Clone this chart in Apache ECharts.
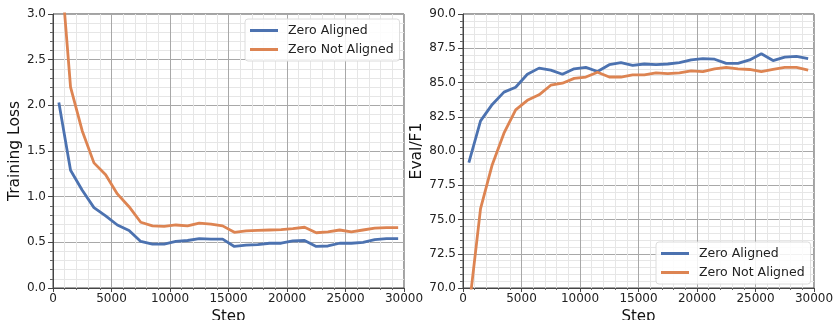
<!DOCTYPE html>
<html>
<head>
<meta charset="utf-8">
<script src="https://cdn.jsdelivr.net/npm/echarts@6/dist/echarts.min.js"></script>
<style>
html, body { margin: 0; padding: 0; background: #fff; }
#chart { width: 835px; height: 320px; }
</style>
</head>
<body>
<div id="chart"></div>
<script>
// 横坐标 step
const steps = [500, 1500, 2500, 3500, 4500, 5500, 6500, 7500, 8500, 9500,
  10500, 11500, 12500, 13500, 14500, 15500, 16500, 17500, 18500, 19500,
  20500, 21500, 22500, 23500, 24500, 25500, 26500, 27500, 28500, 29500]
const seriesNames = ['Zero Aligned', 'Zero Not Aligned']
const lossAligned = [2.03, 1.29, 1.07, 0.88, 0.79, 0.69, 0.63, 0.51, 0.48, 0.48,
  0.51, 0.52, 0.54, 0.535, 0.535, 0.455, 0.47, 0.475, 0.49, 0.49,
  0.515, 0.52, 0.455, 0.46, 0.49, 0.49, 0.50, 0.53, 0.54, 0.54]
const lossNotAligned = [3.8, 2.2, 1.72, 1.37, 1.24, 1.03, 0.89, 0.72, 0.68, 0.675,
  0.69, 0.68, 0.71, 0.70, 0.68, 0.61, 0.625, 0.63, 0.635, 0.64,
  0.65, 0.665, 0.605, 0.615, 0.635, 0.615, 0.635, 0.655, 0.66, 0.66]
const f1Aligned = [79.15, 82.2, 83.4, 84.3, 84.65, 85.6, 86.05, 85.9, 85.6, 86.0,
  86.1, 85.8, 86.3, 86.45, 86.25, 86.35, 86.3, 86.35, 86.45, 86.65,
  86.75, 86.7, 86.4, 86.4, 86.65, 87.1, 86.6, 86.85, 86.9, 86.75]
const f1NotAligned = [68.4, 75.8, 79.0, 81.3, 83.0, 83.7, 84.1, 84.8, 84.95, 85.3,
  85.4, 85.75, 85.4, 85.4, 85.55, 85.55, 85.7, 85.65, 85.7, 85.85,
  85.8, 86.0, 86.1, 86.0, 85.95, 85.8, 85.95, 86.1, 86.1, 85.9]
const xTicks = [0, 5000, 10000, 15000, 20000, 25000, 30000]

const colors = ['#4c72b0', '#dd8452']
const font = 'DejaVu Sans'
const zip = (ys) => steps.map((s, i) => [s, ys[i]])

const chart = echarts.init(document.getElementById('chart'))

function xAxis(gridIndex) {
  return {
    type: 'value',
    gridIndex: gridIndex,
    min: xTicks[0],
    max: xTicks[xTicks.length - 1],
    interval: xTicks[1] - xTicks[0],
    name: 'Step',
    nameLocation: 'middle',
    nameGap: 19,
    nameTextStyle: { fontFamily: font, fontSize: 15, color: '#111' },
    axisLine: { show: true, lineStyle: { color: '#444', width: 1 } },
    axisTick: { show: true, length: 4, lineStyle: { color: '#444' } },
    minorTick: { show: true, splitNumber: 5, length: 2, lineStyle: { color: '#666' } },
    axisLabel: { fontFamily: font, fontSize: 12, color: '#222', margin: 5, formatter: (v) => String(v) },
    splitLine: { show: true, lineStyle: { color: '#a8a8a8', width: 1 } },
    minorSplitLine: { show: true, lineStyle: { color: '#e6e6e6', width: 1 } }
  }
}

function yAxis(gridIndex, name, min, max, interval, nameGap) {
  return {
    type: 'value',
    gridIndex: gridIndex,
    min: min,
    max: max,
    interval: interval,
    name: name,
    nameLocation: 'middle',
    nameRotate: 90,
    nameGap: nameGap,
    nameTextStyle: { fontFamily: font, fontSize: 15.5, color: '#111' },
    axisLine: { show: true, lineStyle: { color: '#444', width: 1 } },
    axisTick: { show: true, length: 5, lineStyle: { color: '#444' } },
    minorTick: { show: true, splitNumber: 5, length: 3, lineStyle: { color: '#666' } },
    axisLabel: {
      fontFamily: font, fontSize: 12, color: '#222', margin: 7,
      formatter: (v) => v.toFixed(1)
    },
    splitLine: { show: true, lineStyle: { color: '#a8a8a8', width: 1 } },
    minorSplitLine: { show: true, lineStyle: { color: '#e6e6e6', width: 1 } }
  }
}

function legend(left, top) {
  return {
    orient: 'vertical',
    left: left,
    top: top,
    itemWidth: 28,
    itemHeight: 14,
    itemGap: 6,
    padding: [5, 6, 5, 5],
    icon: 'path://M0,0 L28,0 L28,3 L0,3 Z',
    backgroundColor: 'rgba(255,255,255,0.85)',
    borderColor: '#dcdcdc',
    borderWidth: 1,
    borderRadius: 3,
    textStyle: { fontFamily: font, fontSize: 12.5, color: '#222', padding: [0, 0, 0, 5] },
    data: seriesNames
  }
}

function line(name, xi, data, color) {
  return {
    name: name,
    type: 'line',
    xAxisIndex: xi,
    yAxisIndex: xi,
    data: data,
    showSymbol: false,
    symbol: 'none',
    clip: true,
    lineStyle: { color: color, width: 2.8 },
    itemStyle: { color: color },
    animation: false
  }
}

const gridBase = { top: 14, width: 351, height: 274, show: true, borderColor: '#444', borderWidth: 1, containLabel: false, outerBoundsMode: 'none' }

const option = {
  backgroundColor: '#fff',
  animation: false,
  grid: [
    Object.assign({ left: 53 }, gridBase),
    Object.assign({ left: 463 }, gridBase)
  ],
  legend: [legend(245, 19), legend(656, 242)],
  xAxis: [xAxis(0), xAxis(1)],
  yAxis: [
    yAxis(0, 'Training Loss', 0, 3, 0.5, 25),
    yAxis(1, 'Eval/F1', 70, 90, 2.5, 32)
  ],
  series: [
    line(seriesNames[0], 0, zip(lossAligned), colors[0]),
    line(seriesNames[1], 0, zip(lossNotAligned), colors[1]),
    line(seriesNames[0], 1, zip(f1Aligned), colors[0]),
    line(seriesNames[1], 1, zip(f1NotAligned), colors[1])
  ]
}

chart.setOption(option)
</script>
</body>
</html>
